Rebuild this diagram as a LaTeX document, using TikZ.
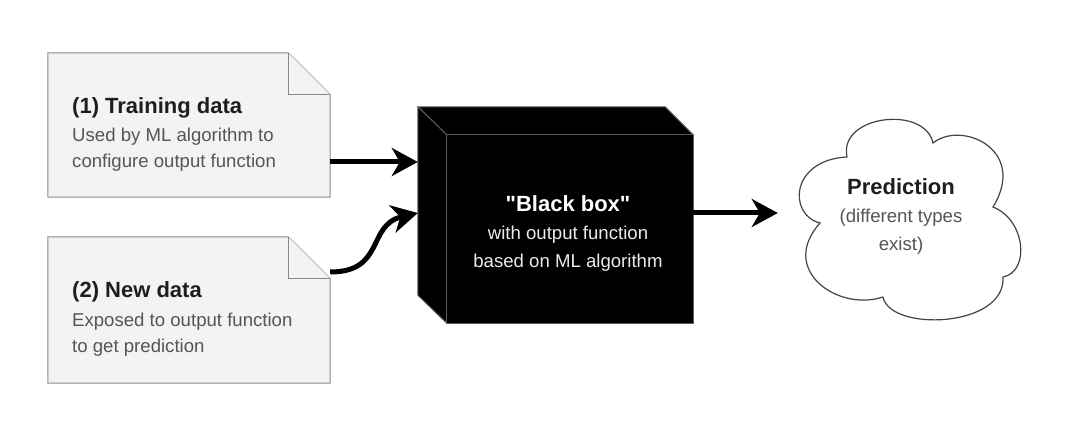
\documentclass[tikz,border=0pt]{standalone}
\usepackage{fontspec}
\setmainfont{Liberation Sans}
\newfontfamily\plainquotes{Liberation Sans}
\usetikzlibrary{arrows.meta,calc}
\definecolor{docfill}{HTML}{F3F3F3}
\definecolor{docline}{HTML}{8A8A8A}
\definecolor{titlecol}{HTML}{1E1E1E}
\definecolor{subcol}{HTML}{555555}
\definecolor{boxedge}{HTML}{5A5A5A}
\definecolor{cloudline}{HTML}{444444}
\begin{document}
\begin{tikzpicture}[x=1pt,y=-1pt,
  docshape/.style={fill=docfill, draw=docline, line width=1pt, line join=miter},
  docanchor/.style={inner sep=0, minimum width=282pt, minimum height=144pt},
  titletext/.style={anchor=base west, inner sep=0, text=titlecol, font=\fontsize{22}{26}\selectfont\bfseries},
  subtext/.style={anchor=base west, inner sep=0, text=subcol, font=\fontsize{18.6}{22}\selectfont},
  boxtitle/.style={anchor=base, inner sep=0, text=white, font=\plainquotes\fontsize{22}{26}\selectfont\bfseries},
  boxsub/.style={anchor=base, inner sep=0, text=white!92!black, font=\fontsize{18.6}{22}\selectfont},
  cloudtitle/.style={anchor=base, inner sep=0, text=titlecol, font=\fontsize{22}{26}\selectfont\bfseries},
  cloudsub/.style={anchor=base, inner sep=0, text=subcol, font=\fontsize{18.6}{22}\selectfont},
  face/.style={fill=black, draw=boxedge, line width=1pt, line join=round},
  conn/.style={line width=5pt, -{Stealth[length=26pt,width=28pt,inset=8pt]}}
]
\useasboundingbox (0,0) rectangle (1080,443);
\fill[white] (0,0) rectangle (1080,443);

% ---- document 1
\node[docanchor] (d1) at (189,125) {};
\filldraw[docshape] (d1.north west) -- ([xshift=-42pt]d1.north east) -- ([yshift=-42pt]d1.north east) -- (d1.south east) -- (d1.south west) -- cycle;
\draw[docshape] ([xshift=-42pt]d1.north east) -- ([xshift=-42pt,yshift=-42pt]d1.north east) -- ([yshift=-42pt]d1.north east);
\node[titletext] (t1) at (72,114) {(1) Training data};
\node[subtext] (s1a) at (72,142) {Used by ML algorithm to};
\node[subtext] (s1b) at (72,168) {configure output function};

% ---- document 2
\node[docanchor, minimum height=146pt] (d2) at (189,310) {};
\filldraw[docshape] (d2.north west) -- ([xshift=-42pt]d2.north east) -- ([yshift=-42pt]d2.north east) -- (d2.south east) -- (d2.south west) -- cycle;
\draw[docshape] ([xshift=-42pt]d2.north east) -- ([xshift=-42pt,yshift=-42pt]d2.north east) -- ([yshift=-42pt]d2.north east);
\node[titletext] (t2) at (72,298) {(2) New data};
\node[subtext] (s2a) at (72,327) {Exposed to output function};
\node[subtext] (s2b) at (72,353) {to get prediction};

% ---- black box
\node[inner sep=0, minimum width=275pt, minimum height=216pt] (box) at (555.5,215) {};
\node[inner sep=0, minimum width=246pt, minimum height=188pt] (front) at (570,229) {};
\filldraw[face] (front.north west) -- ++(-29,-28) -- ([shift={(-28pt,28pt)}]front.north east) -- (front.north east) -- cycle;
\filldraw[face] (front.north west) -- ++(-29,-28) -- ([shift={(-29pt,28pt)}]front.south west) -- (front.south west) -- cycle;
\filldraw[face] (front.north west) rectangle (front.south east);
\node[boxtitle] (bt) at (568,212) {"Black box"};
\node[boxsub] (bs1) at (568,240) {with output function};
\node[boxsub] (bs2) at (568,268) {based on ML algorithm};

% ---- cloud
\node[inner sep=0, minimum width=222pt, minimum height=194pt] (cloud) at (906,219) {};
\filldraw[fill=white, draw=cloudline, line width=1.2pt, line join=miter]
  (820,223) .. controls (788,215) and (790,160) .. (847,157)
  .. controls (838,115) and (925,105) .. (933,143)
  .. controls (962,120) and (1028,150) .. (993,207)
  .. controls (1026,220) and (1030,272) .. (1003,277)
  .. controls (1006,328) and (890,332) .. (883,297)
  .. controls (838,312) and (778,270) .. cycle;
\node[cloudtitle] (ct) at (901,195) {Prediction};
\node[cloudsub] (cs1) at (901,223) {(different types};
\node[cloudsub] (cs2) at (901,251) {exist)};

% ---- connectors
\draw[conn] ([yshift=-37pt]d1.east) -- ([yshift=53pt]box.west);
\draw[conn] ([yshift=38pt]d2.east) .. controls +(55,0) and +(-51,12) .. ([yshift=2pt]box.west);
\draw[conn] ([yshift=2pt]box.east) -- ([xshift=-17pt,yshift=6pt]cloud.west);
\end{tikzpicture}
\end{document}
